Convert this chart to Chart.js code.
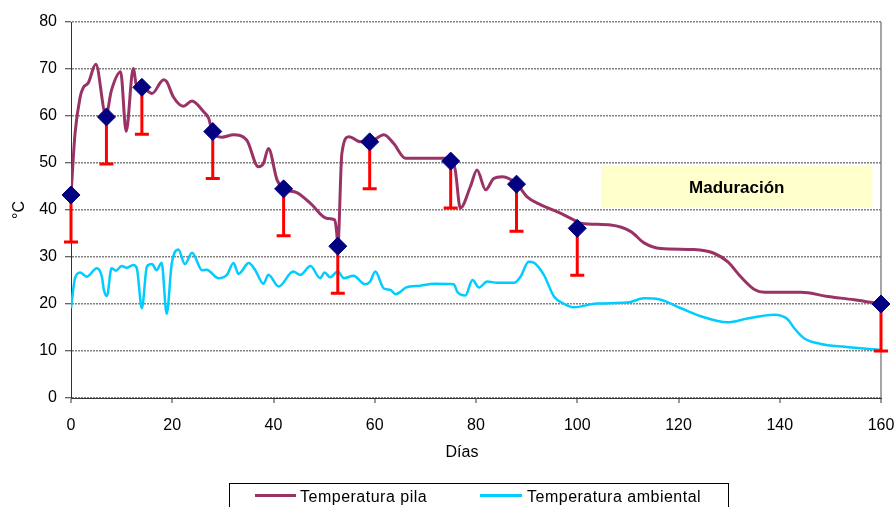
<!DOCTYPE html>
<html>
<head>
<meta charset="utf-8">
<script src="https://cdn.jsdelivr.net/npm/chart.js@4.4.1/dist/chart.umd.min.js"></script>
<style>
body { margin:0; background:#fff; font-family:"Liberation Sans", Arial, sans-serif; }
#wrap { position:relative; width:895px; height:507px; overflow:hidden; }
#days { position:absolute; left:412px; width:100px; top:443px; text-align:center; font-size:16px; line-height:18px; }
#legend { position:absolute; left:229px; top:483px; width:498px; height:40px; border:1px solid #000; }
.item { position:absolute; top:4px; font-size:16px; line-height:18px; letter-spacing:0.5px; white-space:nowrap; }
.swatch { position:absolute; height:3px; top:10px; }
</style>
</head>
<body>
<div id="wrap">
<canvas id="temp" width="895" height="507"></canvas>
<div id="days">Días</div>
<div id="legend">
  <div class="swatch" style="left:25px;width:41px;background:#993366"></div>
  <div class="item" style="left:70px">Temperatura pila</div>
  <div class="swatch" style="left:250px;width:42px;background:#00ccff"></div>
  <div class="item" style="left:297px">Temperatura ambiental</div>
</div>
</div>
<script>
// temperatura de la pila (dias, grados)
var pilaX = [0, 0.8, 1.8, 2.4, 3.4, 4.9, 6.9, 8.0, 9.8, 10.9, 12.3, 13.0, 14.0, 16.0, 18.3, 18.9, 20.2, 22.2, 23.9, 26.2,
  27.2, 27.9, 29.8, 32.1, 34.7, 37.0, 38.0, 39.0, 40.7, 42.0, 44.6, 47.3, 50.6, 52.1, 52.5, 52.7, 53.5, 54.9, 57.2, 59.0,
  61.8, 63.7, 66.1, 75.0, 75.9, 76.9, 78.9, 80.2, 81.9, 83.5, 85.2, 88.1, 90.1, 92.8, 96.1, 99.3, 100.7, 106.6, 110.6, 113.2,
  116.5, 123.1, 127.0, 129.7, 132.3, 135.0, 137.0, 144.2, 149.5, 154.7, 160];
var pilaY = [43.2, 56.3, 64, 66, 67, 71, 60.2, 65.5, 69.4, 56.7, 70.1, 66.2, 66.1, 64.8, 67.7, 67.3, 64.1, 62.1, 63.2, 60.9,
  59.5, 56.7, 55.5, 56, 54.9, 49.2, 49.9, 53.1, 46.4, 44.5, 43.7, 41.4, 38.2, 37.9, 35, 32.3, 52, 55.6, 54.5, 54.5,
  56, 54.2, 51, 51, 48.5, 40.4, 45, 48.5, 44.3, 46.7, 47.1, 45.5, 42.8, 41.1, 39.6, 37.9, 37.2, 36.8, 35.4, 33,
  31.8, 31.6, 30.8, 29, 25.8, 23.1, 22.5, 22.5, 21.6, 20.9, 20];

// temperatura ambiental
var ambX = [0, 0.8, 1.8, 3.1, 5.1, 6.1, 6.5, 7.1, 8.0, 8.9, 10, 11, 12.3, 13, 14, 15, 16, 16.9, 17.9, 18.9,
  19.9, 21.2, 22.5, 23.9, 25.9, 26.8, 29.1, 30.8, 32.1, 33.1, 35.1, 36.4, 38.0, 39.0, 41.0, 43.9, 45.3, 47.3, 49.2, 50.1,
  51.2, 52.7, 53.9, 55.8, 58.1, 59.1, 60.1, 61.8, 63.1, 64.1, 65.1, 66.1, 69, 71.7, 75.6, 76.3, 77.9, 79.3, 80.6, 82.2,
  84.2, 87.5, 88.8, 90.4, 91.4, 93.4, 95.4, 97.4, 99.3, 103.9, 109.9, 113.2, 116.5, 120.5, 124.4, 129.7, 133.6, 138.9, 141.5, 142.9,
  144.8, 148.1, 152.8, 160];
var ambY = [19.1, 25.5, 26.7, 25.8, 27.6, 25.8, 23, 21.7, 27.6, 27.1, 28.1, 27.7, 28.3, 27.6, 19.1, 28, 28.5, 27.2, 28.8, 17.9,
  28.6, 31.6, 28.5, 30.9, 27.2, 27.3, 25.5, 26.2, 28.7, 26.4, 28.7, 27.2, 24.3, 26.2, 23.7, 26.9, 26.2, 28.1, 25.5, 26.7,
  25.7, 26.9, 25.5, 26, 24.2, 24.8, 26.9, 23.3, 23, 22.1, 22.6, 23.5, 23.9, 24.3, 24.2, 22.6, 21.8, 25.1, 23.5, 24.8,
  24.5, 24.5, 25.8, 29, 28.8, 26.2, 21.6, 20, 19.3, 20.1, 20.3, 21.2, 20.9, 19.1, 17.4, 16.1, 16.9, 17.7, 16.8, 14.8,
  12.7, 11.5, 10.9, 10.2];

// muestreos con barra de error
var markX = [0, 7, 14, 28, 42, 52.7, 59, 75, 88, 100, 160];
var markY = [43.2, 59.8, 66.1, 56.7, 44.5, 32.3, 54.5, 50.4, 45.5, 36.1, 20];
var markErr = [10, 10, 10, 10, 10, 10, 10, 10, 10, 10, 10];

// zona de maduracion
var stageLabel = 'Maduración';
var stageX = [104.7, 158.3];
var stageY = [40.4, 49.4];

var xTicks = [0, 20, 40, 60, 80, 100, 120, 140, 160];

function toPoints(xs, ys) {
  var pts = [];
  for (var i = 0; i < xs.length; i++) pts.push({x: xs[i], y: ys[i]});
  return pts;
}

var stagePlugin = {
  id: 'stage',
  beforeDatasetsDraw: function(chart) {
    var xs = chart.scales.x, ys = chart.scales.y, ctx = chart.ctx;
    var x1 = xs.getPixelForValue(stageX[0]), x2 = xs.getPixelForValue(stageX[1]);
    var y1 = ys.getPixelForValue(stageY[1]), y2 = ys.getPixelForValue(stageY[0]);
    ctx.save();
    ctx.fillStyle = '#ffffcc';
    ctx.fillRect(x1, y1, x2 - x1, y2 - y1);
    ctx.fillStyle = '#000';
    ctx.font = 'bold 17px "Liberation Sans", Arial, sans-serif';
    ctx.textAlign = 'center';
    ctx.textBaseline = 'middle';
    ctx.fillText(stageLabel, (x1 + x2) / 2, (y1 + y2) / 2 + 1);
    ctx.restore();
  }
};

var errPlugin = {
  id: 'errBars',
  beforeDatasetDraw: function(chart, args) {
    if (args.index !== 0) return;
    var xs = chart.scales.x, ys = chart.scales.y, ctx = chart.ctx;
    ctx.save();
    ctx.strokeStyle = '#ff0000';
    ctx.lineWidth = 3;
    for (var i = 0; i < markX.length; i++) {
      var px = xs.getPixelForValue(markX[i]);
      var top = ys.getPixelForValue(markY[i]);
      var bot = ys.getPixelForValue(markY[i] - markErr[i]);
      ctx.beginPath();
      ctx.moveTo(px, top); ctx.lineTo(px, bot);
      ctx.moveTo(px - 7, bot); ctx.lineTo(px + 7, bot);
      ctx.stroke();
    }
    ctx.restore();
  }
};

Chart.defaults.font.family = '"Liberation Sans", Arial, sans-serif';
Chart.defaults.font.size = 16;
Chart.defaults.color = '#000';

var ctx = document.getElementById('temp');
new Chart(ctx, {
  type: 'scatter',
  data: {
    datasets: [
      {
        label: 'Muestreo',
        data: toPoints(markX, markY),
        pointStyle: 'rectRot',
        pointRadius: 9,
        backgroundColor: '#000080',
        borderColor: '#000080',
        borderWidth: 1,
        showLine: false,
        clip: false
      },
      {
        label: 'Temperatura pila',
        data: toPoints(pilaX, pilaY),
        showLine: true,
        borderColor: '#993366',
        borderWidth: 3,
        pointRadius: 0,
        cubicInterpolationMode: 'monotone'
      },
      {
        label: 'Temperatura ambiental',
        data: toPoints(ambX, ambY),
        showLine: true,
        borderColor: '#00ccff',
        borderWidth: 2.5,
        pointRadius: 0,
        cubicInterpolationMode: 'monotone'
      }
    ]
  },
  options: {
    responsive: false,
    animation: false,
    layout: { padding: { left: 0, top: 22, right: 14, bottom: 39 } },
    plugins: { legend: { display: false }, tooltip: { enabled: false } },
    scales: {
      x: {
        type: 'linear',
        min: 0,
        max: 160,
        afterBuildTicks: function(scale) {
          scale.ticks = xTicks.map(function(v) { return {value: v}; });
        },
        afterFit: function(scale) {
          scale.height = 70;
          scale.paddingLeft = 0;
          scale.paddingRight = 0;
        },
        ticks: { padding: 13, maxRotation: 0 },
        grid: {
          color: function(c) { return c.tick && c.tick.value === 160 ? '#a6a6a6' : 'transparent'; },
          lineWidth: 2,
          tickColor: '#333',
          tickWidth: 1,
          tickLength: 5
        },
        border: { color: '#333', width: 1 }
      },
      y: {
        min: 0,
        max: 80,
        ticks: { stepSize: 10, padding: 8 },
        afterFit: function(scale) { scale.width = 71; },
        title: { display: true, text: '°C', padding: { top: 10, bottom: 0 } },
        grid: {
          color: '#808080',
          lineWidth: 1.5,
          tickColor: '#333',
          tickWidth: 1,
          tickLength: 6
        },
        border: { color: '#333', width: 1, dash: [2, 1] }
      }
    }
  },
  plugins: [stagePlugin, errPlugin]
});
</script>
</body>
</html>
